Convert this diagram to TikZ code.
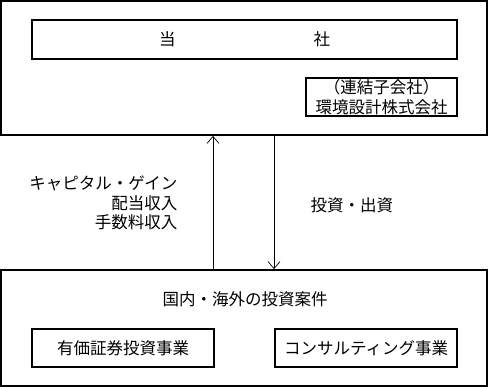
\documentclass[tikz,border=0pt]{standalone}
\usepackage{fontspec}
\setmainfont{Noto Sans CJK JP}
\usetikzlibrary{arrows.meta}

\begin{document}
\begin{tikzpicture}[x=1pt,y=-1pt,font=\fontsize{16.5}{19.5}\selectfont,
  box/.style={draw,line width=1.8pt,inner sep=0pt},
  flow/.style={line width=0.7pt,-{Straight Barb[length=7pt,width=12pt]}}]
\useasboundingbox (0,0) rectangle (489,387);
%cadre du haut
\node[box,minimum width=486pt,minimum height=134pt] (tosha) at (244,68) {};
\node[box,minimum width=425pt,minimum height=39pt] (toshaname) at (244.5,39.5) {当\hspace{138pt}社};
\node[box,minimum width=151pt,minimum height=38pt,align=center] (renketsu) at (381.5,97) {（連結子会社）\\環境設計株式会社};
%cadre du bas
\node[box,minimum width=486pt,minimum height=116pt] (anken) at (244,328) {};
\node (ankentitle) at (245,299) {国内・海外の投資案件};
\node[box,minimum width=182pt,minimum height=38pt] (yuka) at (123,348) {有価証券投資事業};
\node[box,minimum width=182pt,minimum height=38pt] (consul) at (366,348) {コンサルティング事業};
%flèches
\coordinate (upx) at (213,0);
\coordinate (downx) at (274,0);
\draw[flow] (anken.north -| upx) -- (tosha.south -| upx);
\draw[flow] (tosha.south -| downx) -- (anken.north -| downx);
\node[anchor=east,align=right] (revenus) at (181,203) {キャピタル・ゲイン\\配当収入\\手数料収入};
\node[anchor=west] (invest) at (307,205) {投資・出資};
\end{tikzpicture}
\end{document}
